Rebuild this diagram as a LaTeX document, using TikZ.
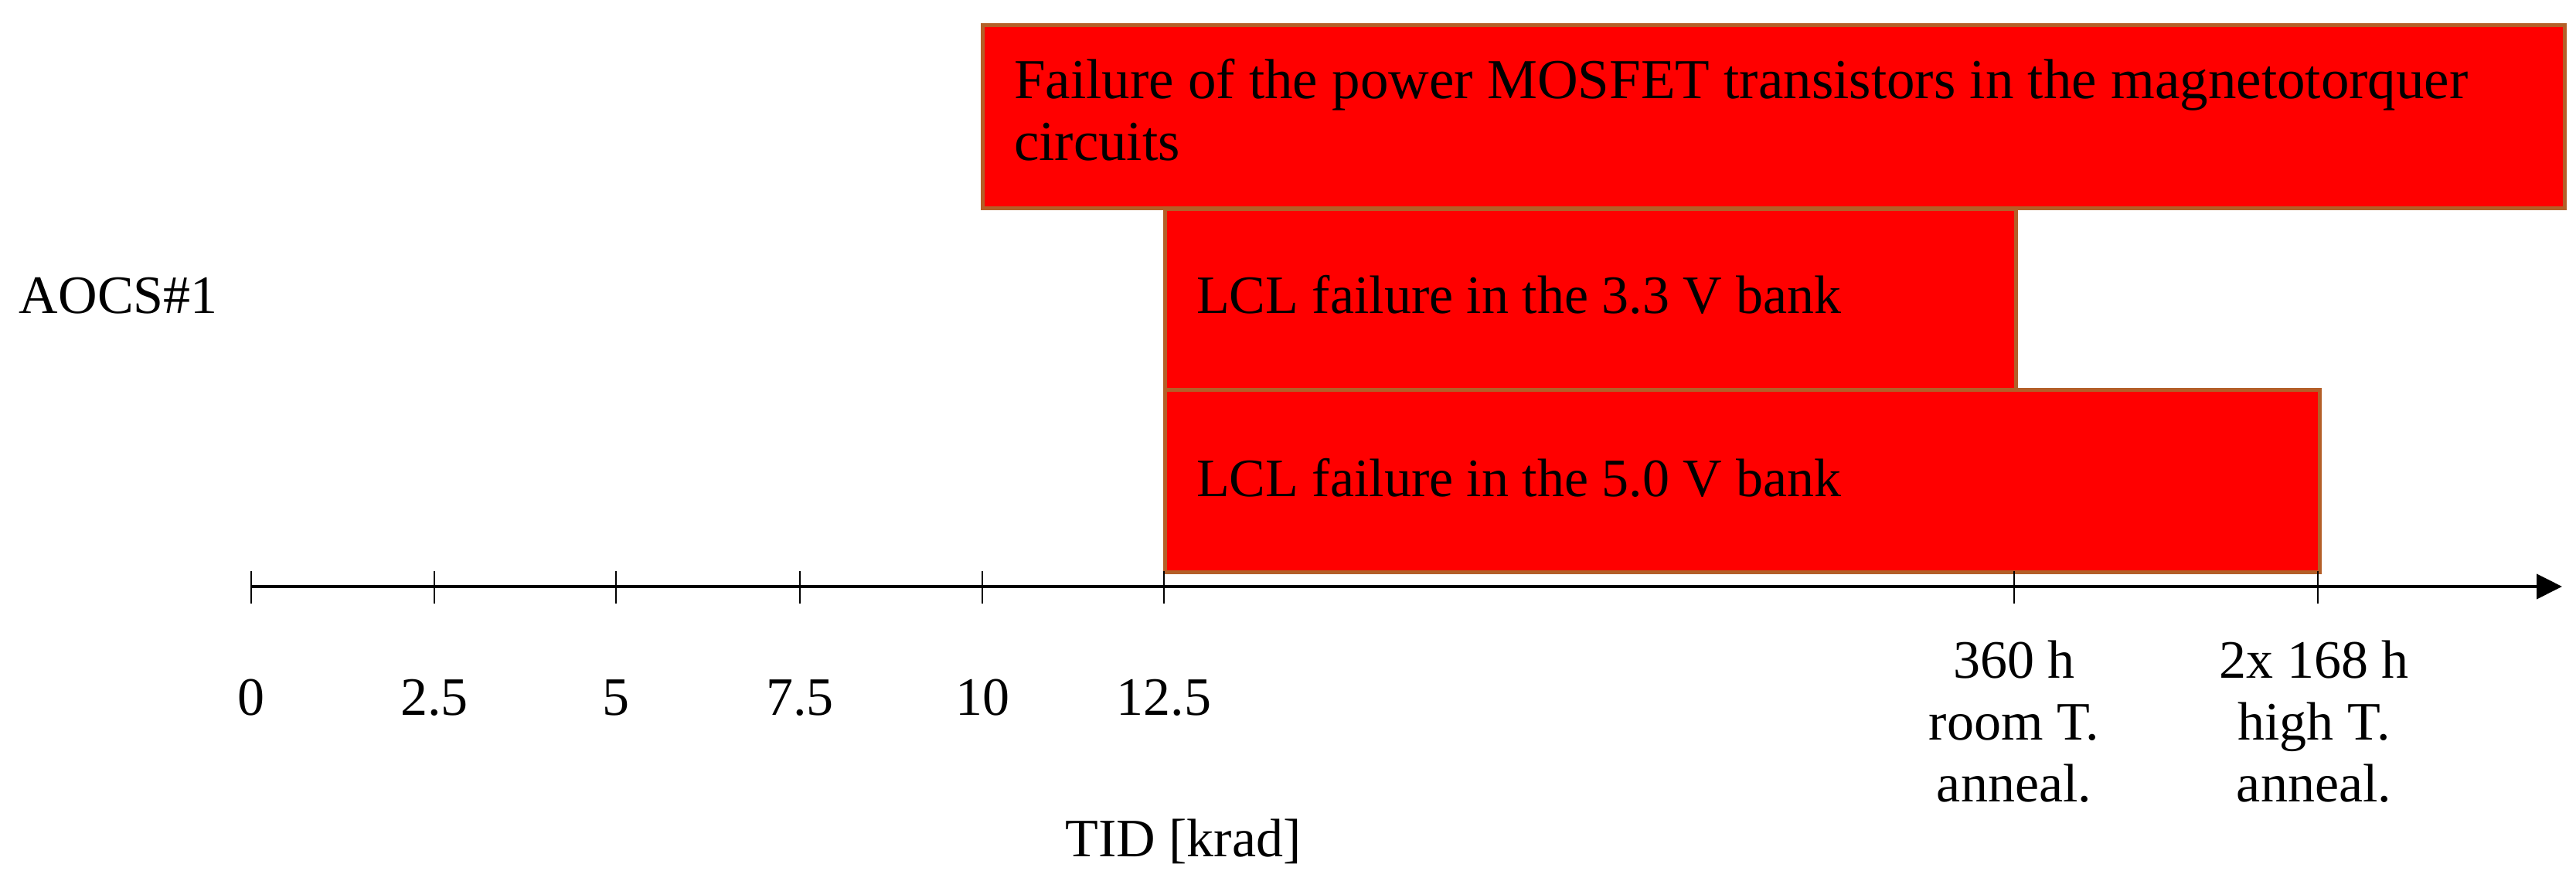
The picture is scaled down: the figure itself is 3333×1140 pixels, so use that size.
\documentclass[tikz,border=0pt]{standalone}
\usepackage{fontspec}
\setmainfont{Liberation Serif}
\usetikzlibrary{arrows.meta}
\definecolor{barred}{RGB}{255,0,0}
\definecolor{baredge}{RGB}{180,95,40}
\begin{document}
\begin{tikzpicture}[x=0.2pt,y=-0.2pt,
  txt/.style={inner sep=0pt, font=\fontsize{14}{16}\selectfont},
  bar/.style={draw=baredge, fill=barred, line width=1pt, inner sep=0pt},
  tick/.style={line width=0.4pt},
  axisline/.style={line width=0.8pt, -{Triangle[length=6.6pt,width=6.4pt]}}]
\useasboundingbox (0,0) rectangle (3333,1140);
% bars
\node[bar, anchor=north west, minimum width=409.4pt, minimum height=47.4pt] (b1) at (1269,30) {};
\node[bar, anchor=north west, minimum width=220.2pt, minimum height=46.8pt] (b2) at (1505,268) {};
\node[bar, anchor=north west, minimum width=298.8pt, minimum height=47.2pt] (b3) at (1505,502) {};
% bar texts (base anchor of a multi-line node is the last line's baseline)
\node[txt, font=\fontsize{14.6}{16}\selectfont, anchor=base west, align=left] (t1) at (1311,208) {Failure of the power MOSFET transistors in the magnetotorquer\\circuits};
\node[txt, anchor=base west] (t2) at (1547,406) {LCL failure in the 3.3 V bank};
\node[txt, anchor=base west] (t3) at (1547,643) {LCL failure in the 5.0 V bank};
\node[txt, anchor=base west] (aocs) at (24,406) {AOCS\#1};
% axis
\coordinate (ax0) at (325,759);
\coordinate (axend) at (3315,759);
\draw[axisline] (ax0) -- (axend);
\foreach \x/\n in {325/k0,562/k1,797/k2,1035/k3,1271/k4,1506/k5,2606/k6,2999/k7}{
  \coordinate (\n top) at (\x,739);
  \coordinate (\n bot) at (\x,781);
  \draw[tick] (\n top) -- (\n bot);
}
% tick labels
\foreach \x/\l/\n in {325/0/l0,562/2.5/l1,797/5/l2,1035/7.5/l3,1271/10/l4,1506/12.5/l5}{
  \node[txt, anchor=base] (\n) at (\x,926) {\l};
}
\node[txt, anchor=base, align=center] (l6) at (2606,1038) {360 h\\room T.\\anneal.};
\node[txt, anchor=base, align=center] (l7) at (2994,1038) {2x 168 h\\high T.\\anneal.};
\node[txt, anchor=base] (tid) at (1531,1109) {TID [krad]};
\end{tikzpicture}
\end{document}
